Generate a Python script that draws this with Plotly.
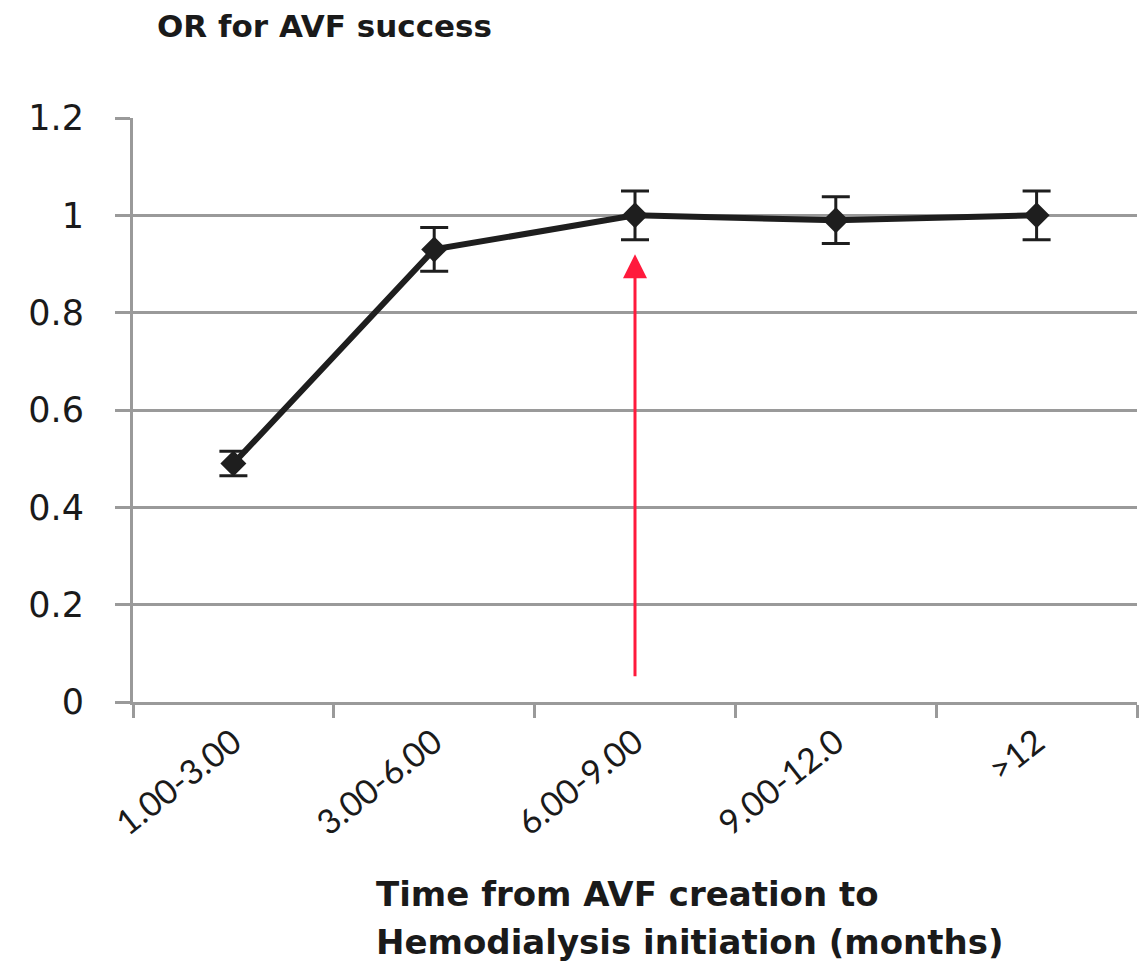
import plotly.graph_objects as go

# Time from AVF creation to hemodialysis initiation (months)
categories = ["1.00-3.00", "3.00-6.00", "6.00-9.00", "9.00-12.0", ">12"]
odds_ratio = [0.49, 0.93, 1.00, 0.99, 1.00]
ci_half = [0.025, 0.045, 0.05, 0.048, 0.05]
y_ticks = [0, 0.2, 0.4, 0.6, 0.8, 1, 1.2]
y_tick_text = ["0", "0.2", "0.4", "0.6", "0.8", "1", "1.2"]
arrow_category = 2
arrow_from, arrow_to = 0.05, 0.92

# plot area in pixels
L, R, T, B = 133, 1137, 118, 702
W, H = 1139, 966


def px_x(p):
    return (p - L) / (R - L)


def px_y(p):
    return (B - p) / (B - T)


fig = go.Figure()
fig.add_trace(go.Scatter(
    x=categories,
    y=odds_ratio,
    mode="lines+markers",
    line=dict(color="#1e1e1e", width=6),
    marker=dict(symbol="diamond", size=20, color="#1e1e1e"),
    error_y=dict(type="data", array=ci_half, visible=True,
                 color="#1e1e1e", thickness=3, width=14),
    showlegend=False,
))

fig.add_annotation(
    x=arrow_category, y=arrow_to, ax=arrow_category, ay=arrow_from,
    xref="x", yref="y", axref="x", ayref="y",
    text="", showarrow=True, arrowhead=2, arrowsize=1.6,
    arrowwidth=3, arrowcolor="#ff1a3c", standoff=0,
)

fig.add_annotation(
    text="<b>OR for AVF success</b>", xref="paper", yref="paper",
    x=px_x(155), y=px_y(26), xanchor="left", yanchor="middle",
    showarrow=False,
    font=dict(family="DejaVu Sans", size=31, color="#1a1a1a"),
)

for line, centre in [("Time from AVF creation to", 894),
                     ("Hemodialysis initiation (months)", 942)]:
    fig.add_annotation(
        text=f"<b>{line}</b>", xref="paper", yref="paper",
        x=px_x(374), y=px_y(centre), xanchor="left", yanchor="middle",
        showarrow=False,
        font=dict(family="DejaVu Sans", size=34, color="#1a1a1a"),
    )

fig.update_layout(
    width=W, height=H,
    margin=dict(l=L, r=W - R, t=T, b=H - B),
    paper_bgcolor="white", plot_bgcolor="white",
    font=dict(family="DejaVu Sans", color="#1a1a1a"),
)
fig.update_xaxes(
    type="category", tickson="boundaries", ticks="outside", ticklen=13,
    tickwidth=3, tickcolor="#9a9a9a", showline=True, linecolor="#9a9a9a",
    linewidth=3, showgrid=False, tickangle=-38, ticklabelstandoff=4,
    tickfont=dict(family="Lato", size=34, color="#1a1a1a"),
    range=[-0.5, 4.5],
)
fig.update_yaxes(
    range=[0, 1.2], tickvals=y_ticks, ticktext=y_tick_text,
    ticks="outside", ticklen=15, tickwidth=3, tickcolor="#9a9a9a",
    showline=True, linecolor="#9a9a9a", linewidth=3, ticklabelstandoff=24,
    showgrid=True, gridcolor="#9a9a9a", gridwidth=3, zeroline=False,
    tickfont=dict(family="DejaVu Sans", size=35, color="#1a1a1a"),
)

fig.write_html("out.html")
